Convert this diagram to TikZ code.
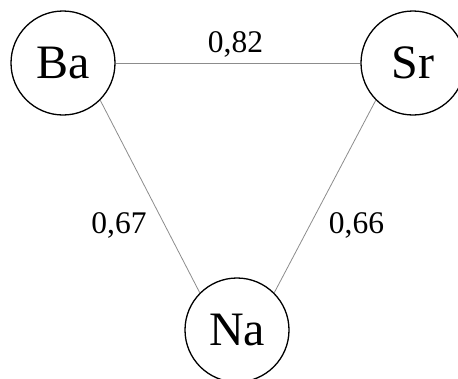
\documentclass[tikz,border=0pt]{standalone}
\usepackage{fontspec}
\setmainfont{Liberation Serif}
\begin{document}
\begin{tikzpicture}[x=1pt,y=-1pt,
  elem/.style={circle,draw=black,line width=1.3pt,minimum size=104pt,inner sep=0pt,font=\fontsize{48}{52}\selectfont},
  bond/.style={draw=black!45,line width=0.8pt},
  lbl/.style={anchor=base,inner sep=0pt,font=\fontsize{31.5}{36}\selectfont}]
\useasboundingbox (0,0) rectangle (458,378);
\node[elem] (Ba) at (63,63) {Ba};
\node[elem] (Sr) at (413,63) {Sr};
\node[elem] (Na) at (237,330) {Na};
\draw[bond] (Ba.east) -- (Sr.west);
\draw[bond] (Ba.south east) -- (Na.north west);
\draw[bond] (Sr.south west) -- (Na.north east);
\node[lbl] (l1) at (235.5,52.5) {0,82};
\node[lbl] (l2) at (119,233) {0,67};
\node[lbl] (l3) at (356.5,233) {0,66};
\end{tikzpicture}
\end{document}
